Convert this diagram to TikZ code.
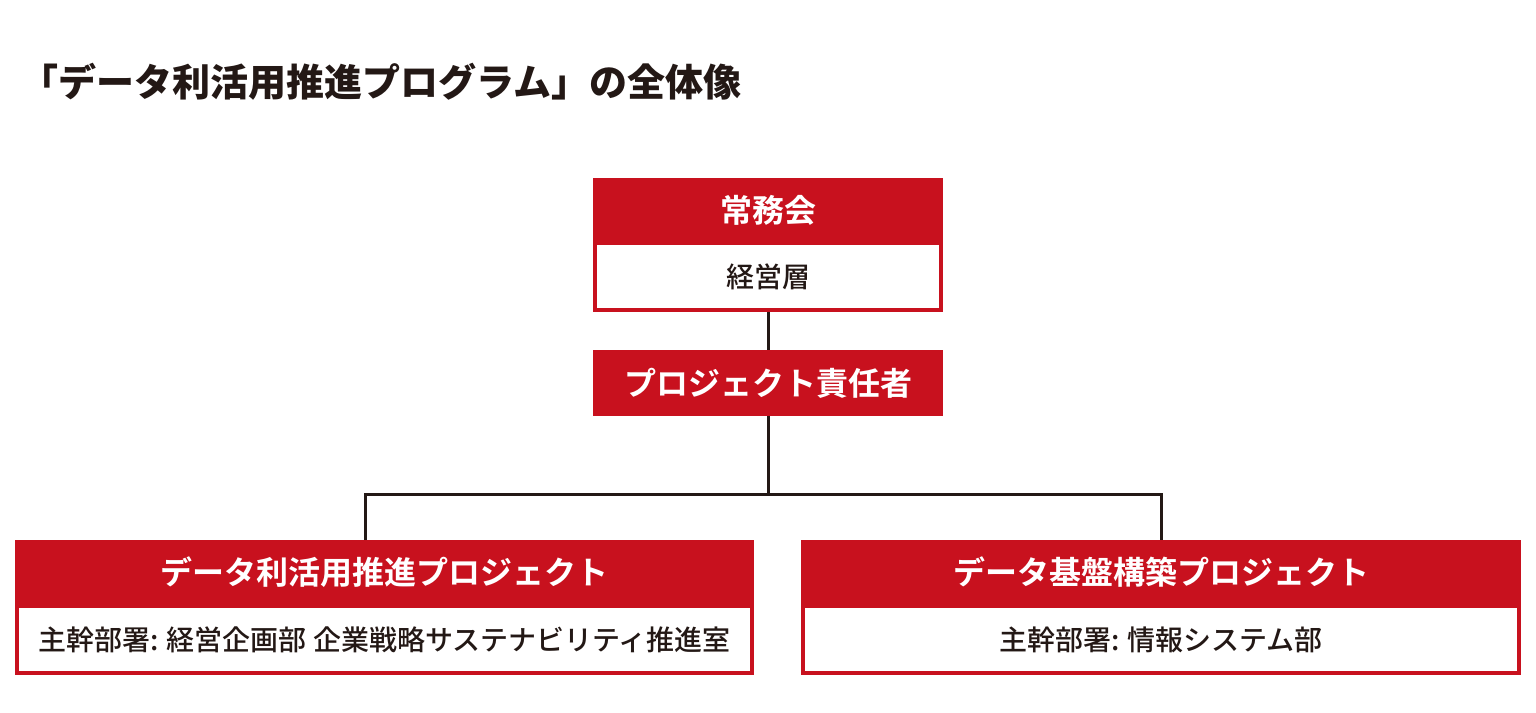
\documentclass[tikz,border=0pt]{standalone}
\usepackage{fontspec}
\setmainfont{Noto Sans CJK JP}[BoldFont={Noto Sans CJK JP Bold}]
\newfontfamily\jpblack{Noto Sans CJK JP Black}
\newfontfamily\jpmedium{Noto Sans CJK JP Medium}
\usepackage{xcolor}
\usepackage{tikz}
\usetikzlibrary{positioning}
\definecolor{jred}{RGB}{200,17,30}
\definecolor{jink}{RGB}{35,24,21}

\begin{document}
\begin{tikzpicture}[x=1pt, y=-1pt,
		headbox/.style={fill=jred, rectangle, inner sep=0pt, text=white,
				minimum height=64pt, font=\bfseries\fontsize{32}{36}\selectfont},
		bodybox/.style={draw=jred, line width=4pt, fill=white, rectangle, inner sep=0pt,
				text=jink, font=\jpmedium\fontsize{28}{32}\selectfont},
		link/.style={draw=jink, line width=3pt},
		titletext/.style={anchor=west, inner sep=0pt, text=jink, font=\jpblack\fontsize{38}{42}\selectfont},
	]
	\useasboundingbox (0,0) rectangle (1536,712);
	\node[titletext] (title) at (20.5, 82) {「データ利活用推進プログラム」の全体像};
	\node[bodybox, minimum width=346pt, minimum height=67pt] (keiei) at (768, 276.5) {経営層};
	\node[headbox, minimum width=350pt] (jomu) at (768, 210) {常務会};
	\node[headbox, minimum width=350pt, minimum height=66pt] (sekinin) at (768, 383) {プロジェクト責任者};
	\node[bodybox, minimum width=735pt, minimum height=67pt] (katsuyobu) at (384.5, 639.5) {主幹部署: 経営企画部 企業戦略サステナビリティ推進室};
	\node[headbox, minimum width=739pt, minimum height=65pt] (katsuyo) at (384.5, 572.5) {データ利活用推進プロジェクト};
	\node[bodybox, minimum width=716pt, minimum height=67pt] (kibanbu) at (1161, 639.5) {主幹部署: 情報システム部};
	\node[headbox, minimum width=720pt, minimum height=65pt] (kiban) at (1161, 572.5) {データ基盤構築プロジェクト};
	\coordinate (split) at (768, 494);
	\draw[link] (keiei.south) -- (sekinin.north);
	\draw[link] (sekinin.south) -- (split);
	\draw[link] ([xshift=-19.5pt]katsuyo.north) |- (split) -| (kiban.north);
\end{tikzpicture}
\end{document}
